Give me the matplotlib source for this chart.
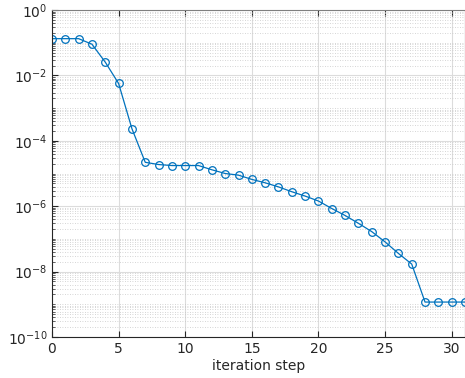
import numpy as np
import matplotlib.pyplot as plt
from matplotlib.ticker import LogLocator, FixedLocator, NullFormatter

# residual per iteration step
steps = list(range(32))
residual = [0.133, 0.133, 0.133, 0.09, 0.0254, 0.00567, 2.35e-4, 2.2e-5,
            1.88e-5, 1.75e-5, 1.75e-5, 1.75e-5, 1.3e-5, 1.0e-5, 8.9e-6, 6.6e-6,
            5.2e-6, 3.9e-6, 2.77e-6, 2.04e-6, 1.44e-6, 8.5e-7, 5.2e-7, 3.0e-7,
            1.67e-7, 8.1e-8, 3.6e-8, 1.7e-8, 1.17e-9, 1.17e-9, 1.17e-9, 1.17e-9]
x_ticks = [0, 5, 10, 15, 20, 25, 30]
y_ticks = [1e-10, 1e-8, 1e-6, 1e-4, 1e-2, 1e0]

fig = plt.figure(figsize=(4.65, 3.78), dpi=100)
ax = fig.add_axes([0.1118, 0.1085, 0.8882, 0.865])

ax.semilogy(steps, residual, '-o', color='#0072BD', lw=0.9,
            markersize=5.5, markerfacecolor='none', markeredgewidth=0.9,
            clip_on=True)

ax.set_xlim(0, 31)
ax.set_ylim(1e-10, 1e0)
ax.set_xticks(x_ticks)
ax.yaxis.set_major_locator(FixedLocator(y_ticks))
ax.yaxis.set_minor_locator(LogLocator(base=10, subs=np.arange(1, 10), numticks=30))
ax.yaxis.set_minor_formatter(NullFormatter())

ax.grid(True, which='major', color='#dcdcdc', lw=0.8, ls='-')
ax.grid(True, which='minor', axis='y', color='#c8c8c8', lw=0.6, ls=(0, (1, 2)))
ax.set_axisbelow(True)

ax.tick_params(which='both', direction='in', top=True, right=False,
               colors='#262626', labelsize=10)
ax.tick_params(which='major', length=4, width=0.8)
ax.tick_params(which='minor', length=2, width=0.5)
for s in ax.spines.values():
    s.set_color('#262626')
    s.set_linewidth(0.8)
ax.spines['top'].set_color('#7f7f7f')

ax.set_xlabel('iteration step', fontsize=10, color='#262626', labelpad=2)

fig.savefig('out.png', dpi=100)
